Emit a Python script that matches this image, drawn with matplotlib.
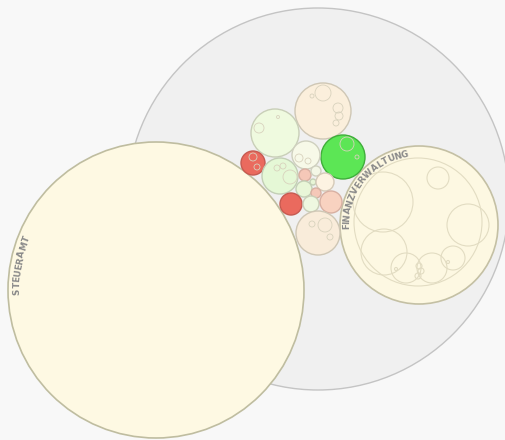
import numpy as np
import matplotlib.pyplot as plt
from matplotlib.patches import Circle
from matplotlib.textpath import TextPath
from matplotlib.font_manager import FontProperties

# --- Data: packed circles (x, y, radius in layout units), fill colour ---
outer_x, outer_y, outer_r = 318, 199, 191

steuer_x, steuer_y, steuer_r = 156, 290, 148
finanz_x, finanz_y, finanz_r = 419, 225, 79

# children of Finanzverwaltung (outline only)
fv_x = [418, 383, 438, 468, 384, 406, 432, 453, 419, 421, 418, 396, 448]
fv_y = [222, 202, 178, 225, 252, 268, 268, 258, 266, 271, 276, 269, 262]
fv_r = [64, 30, 11, 21, 23, 15, 15, 12, 3, 3, 3, 1.5, 1.5]

# middle cluster
mid_x = [323, 275, 343, 253, 280, 306, 305, 316, 313, 325, 304, 316, 291, 311, 331, 318]
mid_y = [111, 133, 157, 163, 176, 155, 175, 171, 182, 182, 189, 193, 204, 204, 202, 233]
mid_r = [28, 24, 22, 12, 18, 14, 6, 5, 3, 9, 8, 5, 11, 8, 11, 22]
mid_c = ['#fbefdc', '#effadf', '#5ce655', '#ea6a5e', '#e5f8d6', '#f7f9e8',
         '#f5c8b8', '#f4f7e6', '#e7f5d6', '#fdf3e2', '#e9f6d8', '#f5c8b8',
         '#ea6a5e', '#eef8e0', '#f8d2c0', '#f9ecda']
mid_e = ['#cfc7b5', '#c9cfb8', '#3fae3a', '#c65a50', '#c3cfb6', '#cfd0bf',
         '#d8b0a2', '#cfd0bf', '#c3cfb6', '#d5cab8', '#c3cfb6', '#d8b0a2',
         '#c65a50', '#c9cfb8', '#d8b0a2', '#cfc7b5']

# small nested circles inside the middle cluster (outline only)
sub_x = [323, 338, 339, 336, 312, 259, 278, 253, 257, 290, 277, 283, 325, 330, 312, 347, 357, 299, 308]
sub_y = [93, 108, 116, 123, 96, 128, 117, 157, 167, 177, 168, 166, 225, 237, 224, 144, 157, 158, 161]
sub_r = [8, 5, 4, 3, 2, 5, 1.5, 4, 3, 7, 3, 3, 7, 3, 3, 7, 2, 4, 3]

labels = ['STEUERAMT', 'FINANZVERWALTUNG']

# --- Figure ---
W, H = 506, 440
fig = plt.figure(figsize=(W / 100, H / 100), dpi=100)
fig.patch.set_facecolor('#f8f8f8')
ax = fig.add_axes([0, 0, 1, 1])
ax.set_xlim(0, W)
ax.set_ylim(H, 0)
ax.set_aspect('equal')
ax.axis('off')


def circ(x, y, r, fc, ec, lw=1.0):
    ax.add_patch(Circle((x, y), r, facecolor=fc, edgecolor=ec, linewidth=lw))


circ(outer_x, outer_y, outer_r, '#f0f0f0', '#c4c4c4', 1.0)
circ(steuer_x, steuer_y, steuer_r, '#fef9e3', '#bfbda0', 1.2)
circ(finanz_x, finanz_y, finanz_r, '#fdf8e2', '#c4c0a4', 1.2)
for x, y, r in zip(fv_x, fv_y, fv_r):
    circ(x, y, r, 'none', '#e2dcc2', 0.8)

for x, y, r, c, e in zip(mid_x, mid_y, mid_r, mid_c, mid_e):
    circ(x, y, r, c, e, 1.0)
for x, y, r in zip(sub_x, sub_y, sub_r):
    circ(x, y, r, 'none', '#d8d2bd', 0.6)

FS = 6.3
prop = FontProperties(family='DejaVu Sans', weight='bold')


def arc_text(text, cx, cy, rad, a_mid, gap=1.0):
    # place characters clockwise along an arc, centred on a_mid (deg, y up)
    widths = []
    for ch in text:
        ext = TextPath((0, 0), ch, size=FS * 100 / 72, prop=prop).get_extents()
        widths.append(ext.width)
    adv = [w + gap for w in widths]
    total = sum(adv) - gap
    pos = np.cumsum([0] + adv[:-1]) + np.array(widths) / 2 - total / 2
    for ch, s in zip(text, pos):
        a = np.radians(a_mid) - s / rad
        x = cx + rad * np.cos(a)
        y = cy - rad * np.sin(a)
        ax.text(x, y, ch, rotation=np.degrees(a) - 90, ha='center', va='center',
                fontsize=FS, fontproperties=prop, color='#8a8a8a',
                rotation_mode='anchor')


arc_text(labels[0], steuer_x, steuer_y, 139, 169.5)
arc_text(labels[1], finanz_x, finanz_y, 72, 141)

fig.savefig('out.png', dpi=100, facecolor=fig.get_facecolor())
